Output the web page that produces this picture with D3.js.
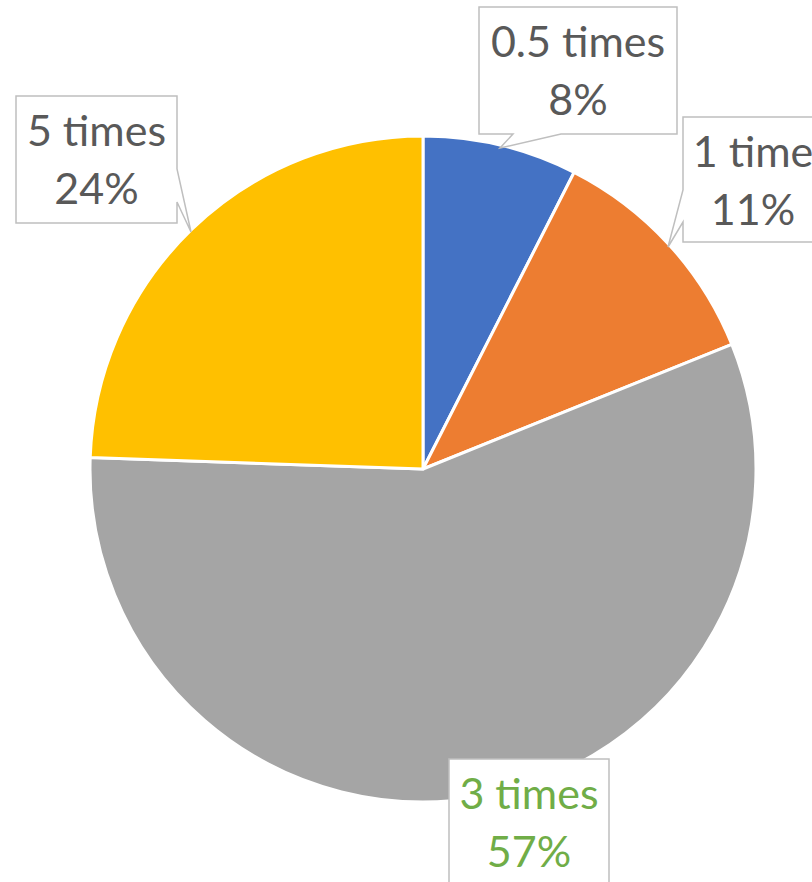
<!DOCTYPE html>
<html>
<head>
<meta charset="utf-8">
<script src="https://cdn.jsdelivr.net/npm/d3@7"></script>
<style>
  html, body { margin: 0; padding: 0; background: #fff; }
  svg { display: block; }
</style>
</head>
<body>
<svg id="chart" width="812" height="882"></svg>
<script>
// ---- data ----
const categories = ["0.5 times", "1 time", "3 times", "5 times"];
const values = [7.5, 11.4, 56.65, 24.45];
const colors = ["#4472C4", "#ED7D31", "#A5A5A5", "#FFC000"];
const labelColors = ["#595959", "#595959", "#70AD47", "#595959"];

// ---- callout layout (positions only) ----
const callouts = [
  { x: 479, y: 7,   w: 198, h: 127, side: "bottom", b1: 561, b2: 513, tip: [500, 148] },
  { x: 683, y: 117, w: 140, h: 125, side: "left",   b1: 222, b2: 190, tip: [668, 247] },
  { x: 449, y: 759, w: 160, h: 140, side: "none" },
  { x: 16,  y: 96,  w: 161, h: 127, side: "right",  b1: 169, b2: 202, tip: [191, 232] }
];

const svg = d3.select("#chart");
const cx = 423, cy = 469, r = 333;

const pie = d3.pie().sort(null).value(d => d).startAngle(0).endAngle(2 * Math.PI);
const arcs = pie(values);
const arc = d3.arc().innerRadius(0).outerRadius(r);
const total = d3.sum(values);

const g = svg.append("g").attr("transform", `translate(${cx},${cy})`);
g.selectAll("path")
  .data(arcs)
  .join("path")
  .attr("d", arc)
  .attr("fill", (d, i) => colors[i])
  .attr("stroke", "#fff")
  .attr("stroke-width", 3)
  .attr("stroke-linejoin", "round");

function calloutPath(c) {
  const x0 = c.x, y0 = c.y, x1 = c.x + c.w, y1 = c.y + c.h;
  const p = d3.path();
  p.moveTo(x0, y0);
  p.lineTo(x1, y0);
  if (c.side === "right") {
    p.lineTo(x1, c.b1); p.lineTo(c.tip[0], c.tip[1]); p.lineTo(x1, c.b2);
  }
  p.lineTo(x1, y1);
  if (c.side === "bottom") {
    p.lineTo(c.b1, y1); p.lineTo(c.tip[0], c.tip[1]); p.lineTo(c.b2, y1);
  }
  p.lineTo(x0, y1);
  if (c.side === "left") {
    p.lineTo(x0, c.b1); p.lineTo(c.tip[0], c.tip[1]); p.lineTo(x0, c.b2);
  }
  p.closePath();
  return p.toString();
}

const lg = svg.append("g");
arcs.forEach((a, i) => {
  const c = callouts[i];
  const grp = lg.append("g");
  grp.append("path")
    .attr("d", calloutPath(c))
    .attr("fill", "#fff")
    .attr("stroke", "#BFBFBF")
    .attr("stroke-width", 1.5);
  const t = grp.append("text")
    .attr("text-anchor", "middle")
    .attr("font-family", "Lato, 'Open Sans', sans-serif")
    .attr("font-size", 43)
    .attr("fill", labelColors[i]);
  const mx = c.x + c.w / 2;
  t.append("tspan").attr("x", mx).attr("y", c.y + 50).text(categories[i]);
  t.append("tspan").attr("x", mx).attr("y", c.y + 108)
    .text(Math.round(values[i] / total * 100) + "%");
});
</script>
</body>
</html>
